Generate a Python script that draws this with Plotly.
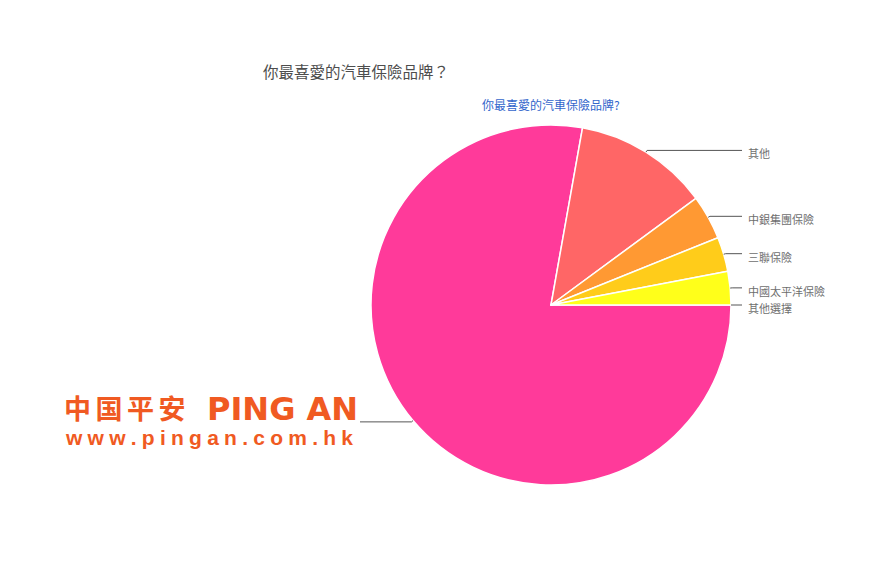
import math
import plotly.graph_objects as go

# ---- data (clockwise from 3 o'clock) ----
labels = ["其他選擇", "中國平安", "其他", "中銀集團保險", "三聯保險", "中國太平洋保險"]
values = [0.0, 77.8, 12.1, 4.0, 3.1, 3.0]
colors = ["#3366CC", "#FF3A9A", "#FF6666", "#FF9933", "#FFCC1A", "#FFFF1A"]
show_label = [True, False, True, True, True, True]
title_text = "你最喜愛的汽車保險品牌？"
subtitle_text = "你最喜愛的汽車保險品牌?"

# ---- layout constants (pixels) ----
W, H = 869, 579
CX, CY, R = 551, 305, 180
LINE_OUT = 11
TEXT_GAP = 4


def px(x):
    return x / W


def py(y):
    return 1 - y / H


fig = go.Figure()
fig.add_trace(go.Pie(
    labels=labels, values=values, sort=False,
    direction="clockwise", rotation=90,
    marker=dict(colors=colors, line=dict(color="white", width=1.5)),
    textinfo="none", hoverinfo="label+percent", showlegend=False,
    domain=dict(x=[px(CX - R), px(CX + R)], y=[py(CY + R), py(CY - R)]),
))

shapes = []
annotations = []
total = sum(values)
cum = 0.0
for lab, v, show in zip(labels, values, show_label):
    mid = -(cum + v / 2) / total * 2 * math.pi
    cum += v
    ex, ey = CX + R * math.cos(mid), CY - R * math.sin(mid)
    bx, by = CX + (R + 2) * math.cos(mid), CY - (R + 2) * math.sin(mid)
    right = math.cos(mid) >= 0
    endx = CX + R + LINE_OUT if right else CX - R - LINE_OUT
    shapes.append(dict(
        type="path", xref="paper", yref="paper",
        path=f"M {px(ex)},{py(ey)} L {px(bx)},{py(by)} L {px(endx)},{py(by)}",
        line=dict(color="#555555", width=1),
    ))
    if show:
        annotations.append(dict(
            x=px(endx + (TEXT_GAP if right else -TEXT_GAP)), y=py(by + 3),
            xref="paper", yref="paper", text=lab, showarrow=False,
            xanchor="left" if right else "right", yanchor="middle",
            font=dict(family="Noto Sans CJK TC", size=11, color="#6e6e6e"),
        ))

# titles
annotations.append(dict(x=px(261), y=py(71), xref="paper", yref="paper",
                        text=title_text, showarrow=False, xanchor="left", yanchor="middle",
                        font=dict(family="Noto Sans CJK TC", size=15.5, color="#4d4d4d")))
annotations.append(dict(x=px(480), y=py(105), xref="paper", yref="paper",
                        text=subtitle_text, showarrow=False, xanchor="left", yanchor="middle",
                        font=dict(family="Noto Sans CJK TC", size=12, color="#3366cc")))

# logo (as text)
ORANGE = "#F05A22"
cjk_logo = "\u2006".join("中国平安")
annotations.append(dict(x=px(62), y=py(407), xref="paper", yref="paper",
                        text=f"<b>{cjk_logo}</b>", showarrow=False, xanchor="left", yanchor="middle",
                        font=dict(family="Noto Sans CJK SC", size=27, color=ORANGE)))
annotations.append(dict(x=px(205), y=py(409), xref="paper", yref="paper",
                        text="<b>PING AN</b>", showarrow=False, xanchor="left", yanchor="middle",
                        font=dict(family="DejaVu Sans", size=32, color=ORANGE)))
url = "\u2005".join("www.pingan.com.hk")
annotations.append(dict(x=px(63), y=py(437), xref="paper", yref="paper",
                        text=f"<b>{url}</b>", showarrow=False, xanchor="left", yanchor="middle",
                        font=dict(family="Liberation Sans", size=21, color=ORANGE)))

fig.update_layout(
    width=W, height=H, margin=dict(l=0, r=0, t=0, b=0),
    paper_bgcolor="white", plot_bgcolor="white",
    shapes=shapes, annotations=annotations,
)

fig.write_html("out.html", config={"displayModeBar": False},
               post_script="document.body.style.margin='0';document.body.style.overflow='hidden';")
